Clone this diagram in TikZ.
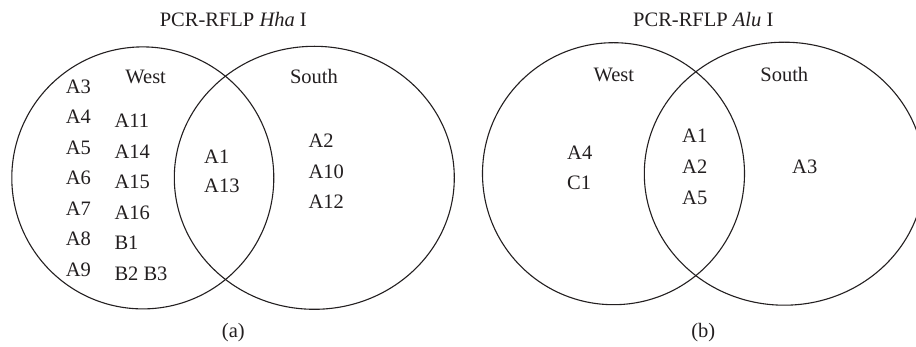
\documentclass[tikz,border=0pt]{standalone}
\usepackage{fontspec}
\setmainfont{Liberation Serif}
\definecolor{ink}{RGB}{35,31,32}
\begin{document}
\begin{tikzpicture}[x=1pt,y=-1pt,
  venn/.style={draw=ink, line width=1.1pt},
  txt/.style={inner sep=0pt, text=ink, font=\fontsize{20.5}{24}\selectfont},
  item/.style={txt, anchor=base west},
  head/.style={txt, anchor=base}]
\clip (0,0) rectangle (916,347);
\fill[white] (0,0) rectangle (916,347);

% ---------- (a) PCR-RFLP HhaI ----------
\draw[venn] (142.8,177.9) circle [radius=131pt];
\draw[venn] (314.3,177.8) ellipse [x radius=140pt, y radius=131.5pt];

\node[head] (ta) at (233.3,26.7) {PCR-RFLP \textit{Hha} I};
\node[head] (capa) at (233.3,337.3) {(a)};
\node[head] (wa) at (145.7,84) {West};
\node[head] (sa) at (314,84) {South};

% west only, first column
\node[item] (a3) at (65.7,93.3) {A3};
\node[item] (a4) at (65.7,123.8) {A4};
\node[item] (a5) at (65.7,154.3) {A5};
\node[item] (a6) at (65.7,184.8) {A6};
\node[item] (a7) at (65.7,215.3) {A7};
\node[item] (a8) at (65.7,245.8) {A8};
\node[item] (a9) at (65.7,276.3) {A9};
% west only, second column
\node[item] (a11) at (114.3,127.7) {A11};
\node[item] (a14) at (114.3,158.2) {A14};
\node[item] (a15) at (114.3,188.7) {A15};
\node[item] (a16) at (114.3,219.2) {A16};
\node[item] (b1)  at (114.3,249.7) {B1};
\node[item] (b23) at (114.3,280.2) {B2 B3};
% shared
\node[item] (a1)  at (204,163.3) {A1};
\node[item] (a13) at (204,192.7) {A13};
% south only
\node[item] (a2)  at (308.3,147.7) {A2};
\node[item] (a10) at (308.3,178.3) {A10};
\node[item] (a12) at (308.3,209) {A12};

% ---------- (b) PCR-RFLP AluI ----------
\draw[venn] (613.5,173.7) circle [radius=131pt];
\draw[venn] (784.3,173.7) ellipse [x radius=140pt, y radius=131.5pt];

\node[head] (tb) at (703.3,26.7) {PCR-RFLP \textit{Alu} I};
\node[head] (capb) at (703.3,337.3) {(b)};
\node[head] (wb) at (613.8,81.7) {West};
\node[head] (sb) at (784.3,81.7) {South};

\node[item] (bA4) at (567,160) {A4};
\node[item] (bC1) at (567,190) {C1};
\node[item] (bA1) at (682,142.7) {A1};
\node[item] (bA2) at (682,173.3) {A2};
\node[item] (bA5) at (682,204.3) {A5};
\node[item] (bA3) at (792,173.3) {A3};
\end{tikzpicture}
\end{document}
